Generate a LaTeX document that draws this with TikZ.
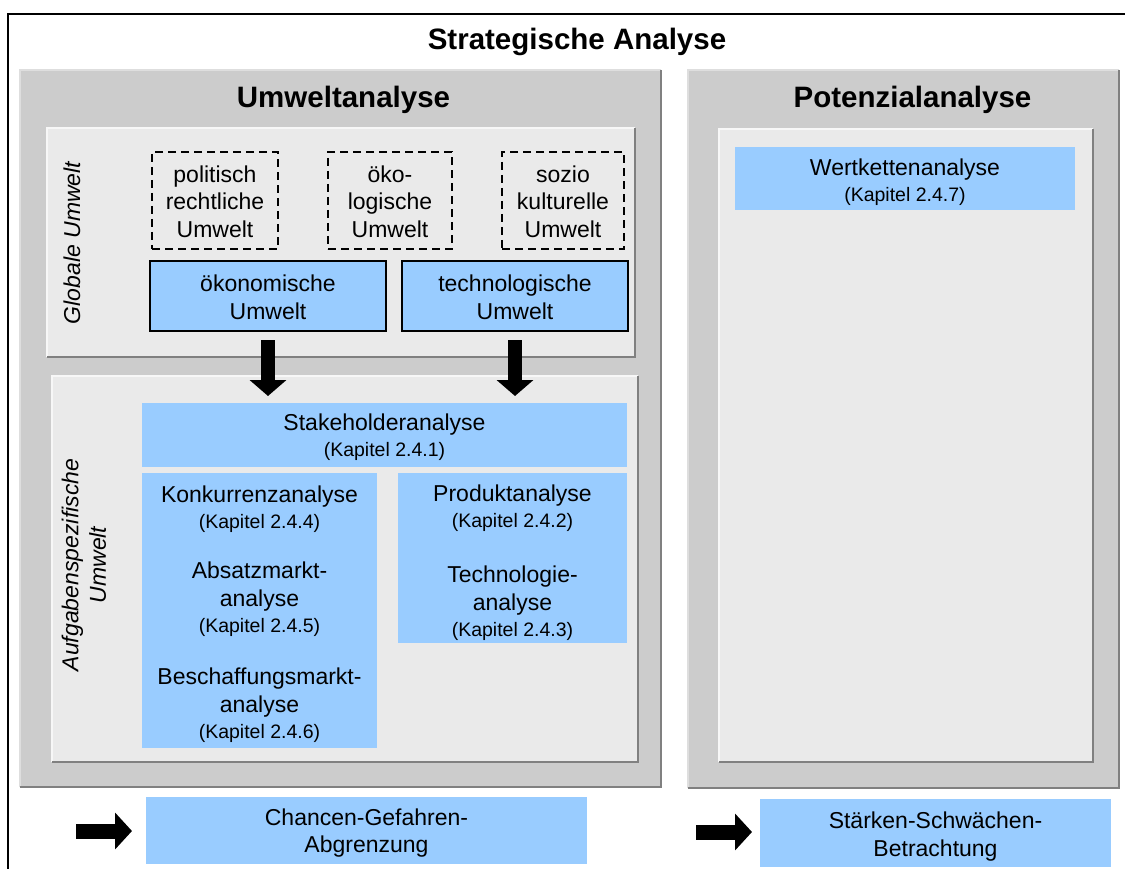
\documentclass[tikz,border=0pt]{standalone}
\usepackage{fontspec}
\setmainfont{Liberation Sans}
\usetikzlibrary{arrows.meta,calc}
\definecolor{panelgray}{HTML}{CCCCCC}
\definecolor{innergray}{HTML}{EAEAEA}
\definecolor{boxblue}{HTML}{99CCFF}
\definecolor{shadegray}{HTML}{808080}
\definecolor{panelhi}{HTML}{DEDEDE}
\definecolor{innerhi}{HTML}{F7F7F7}
\newcommand\fsbig{\fontsize{29.5}{34}\selectfont\bfseries}
\newcommand\fsnorm{\fontsize{23}{27.5}\selectfont}
\newcommand\fskap{\fontsize{19.5}{22}\selectfont}
% chapter reference set in a smaller size on its own line
\newcommand\kapline[1]{\\[-1.5pt]{\fskap (Kapitel #1)}}
\tikzset{
  every node/.style={inner sep=0pt, outer sep=0pt},
  panel/.style={fill=panelgray},
  inner/.style={fill=innergray},
  bluebox/.style={fill=boxblue},
  framedbox/.style={fill=boxblue, draw=black, line width=2pt},
  dashbox/.style={draw=black, line width=2pt, dash pattern=on 8pt off 5pt},
  boxtext/.style={font=\fsnorm, align=center},
  heading/.style={font=\fsbig, anchor=base},
  sidelabel/.style={font=\fsnorm\itshape, rotate=90, align=center},
  shadeedge/.style={draw=shadegray, line width=2pt},
  blockdown/.style={line width=14pt, -{Triangle[width=36pt,length=16pt]}},
  blockright/.style={line width=15pt, -{Triangle[width=36pt,length=17pt]}},
}
% light edge on top/left, dark edge on right/bottom
\newcommand\bevel[2]{%
  \draw[draw=#2, line width=2pt] (#1.south west) -- (#1.north west) -- (#1.north east);
  \draw[shadeedge] (#1.north east) -- (#1.south east) -- (#1.south west);}
\begin{document}
\begin{tikzpicture}[x=1pt,y=-1pt]
\useasboundingbox (0,0) rectangle (1125,869);
\fill[white] (0,0) rectangle (1125,869);

% outer frame (open to the right and bottom)
\draw[line width=2pt] (8,880) -- (8,14) -- (1135,14);
\node[heading] (title) at (577,50) {Strategische Analyse};

% two main panels
\node[panel, minimum width=641pt, minimum height=717pt] (umw) at (340.5,428.5) {};
\bevel{umw}{panelhi}
\node[panel, minimum width=431pt, minimum height=718pt] (pot) at (903.5,429) {};
\bevel{pot}{panelhi}
\node[heading] (umwtitle) at (343.5,108) {Umweltanalyse};
\node[heading] (pottitle) at (912.5,108) {Potenzialanalyse};

% inner fields
\node[inner, minimum width=588pt, minimum height=229pt] (glob) at (341,242.5) {};
\bevel{glob}{innerhi}
\node[inner, minimum width=586pt, minimum height=386pt] (aufg) at (345,569) {};
\bevel{aufg}{innerhi}
\node[inner, minimum width=374pt, minimum height=633pt] (potin) at (906,445.5) {};
\bevel{potin}{innerhi}

\node[sidelabel] (globlabel) at (72,243) {Globale Umwelt};
\node[sidelabel] (aufglabel) at (84,565) {Aufgabenspezifische\\Umwelt};

% global environment
\node[dashbox, minimum width=126pt, minimum height=97pt] (pol) at (215,200.5) {};
\node[dashbox, minimum width=124pt, minimum height=97pt] (oeko) at (390,200.5) {};
\node[dashbox, minimum width=122pt, minimum height=97pt] (soz) at (563,200.5) {};
\node[boxtext, yshift=-1pt] (poltext) at (pol) {politisch\\rechtliche\\Umwelt};
\node[boxtext, yshift=-1pt] (oekotext) at (oeko) {öko-\\logische\\Umwelt};
\node[boxtext, yshift=-1pt] (soztext) at (soz) {sozio\\kulturelle\\Umwelt};
\node[framedbox, minimum width=236pt, minimum height=70pt] (oekon) at (268,296) {};
\node[framedbox, minimum width=226pt, minimum height=70pt] (tech) at (515,296) {};
\node[boxtext, yshift=-1.5pt] (oekontext) at (oekon) {ökonomische\\Umwelt};
\node[boxtext, yshift=-1.5pt] (techtext) at (tech) {technologische\\Umwelt};

% task environment
\node[bluebox, minimum width=485pt, minimum height=64pt] (stake) at (384.5,435) {};
\node[boxtext, yshift=-2pt] (staketext) at (stake) {Stakeholderanalyse\kapline{2.4.1}};
\node[bluebox, minimum width=235pt, minimum height=275pt] (leftcol) at (259.5,610.5) {};
\node[bluebox, minimum width=229pt, minimum height=170pt] (rightcol) at (512.5,558) {};
\node[boxtext] (konk) at (259.5,509) {Konkurrenzanalyse\kapline{2.4.4}};
\node[boxtext] (absatz) at (259.5,599) {Absatzmarkt-\\analyse\kapline{2.4.5}};
\node[boxtext] (beschaff) at (259.5,705) {Beschaffungsmarkt-\\analyse\kapline{2.4.6}};
\node[boxtext] (produkt) at (512.5,508) {Produktanalyse\kapline{2.4.2}};
\node[boxtext] (technol) at (512.5,603) {Technologie-\\analyse\kapline{2.4.3}};

\draw[blockdown, shorten <=9pt, shorten >=7pt] (oekon.south) -- (oekon.south |- stake.north);
\draw[blockdown, shorten <=9pt, shorten >=7pt] (tech.south) -- (tech.south |- stake.north);

% potential analysis
\node[bluebox, minimum width=340pt, minimum height=63pt] (wert) at (905,178.5) {};
\node[boxtext, yshift=-3.5pt] (werttext) at (wert) {Wertkettenanalyse\kapline{2.4.7}};

% results
\node[bluebox, minimum width=441pt, minimum height=67pt] (chancen) at (366.5,830.5) {};
\node[bluebox, minimum width=351pt, minimum height=68pt] (staerken) at (935.5,833) {};
\node[boxtext, yshift=-2.5pt] (chancentext) at (chancen) {Chancen-Gefahren-\\Abgrenzung};
\node[boxtext, yshift=-3.5pt] (staerkentext) at (staerken) {Stärken-Schwächen-\\Betrachtung};
\coordinate (fromleft) at (76,831);
\coordinate (fromright) at (696,832);
\draw[blockright, shorten >=14pt] (fromleft) -- (fromleft -| chancen.west);
\draw[blockright, shorten >=8pt] (fromright) -- (fromright -| staerken.west);
\end{tikzpicture}
\end{document}
